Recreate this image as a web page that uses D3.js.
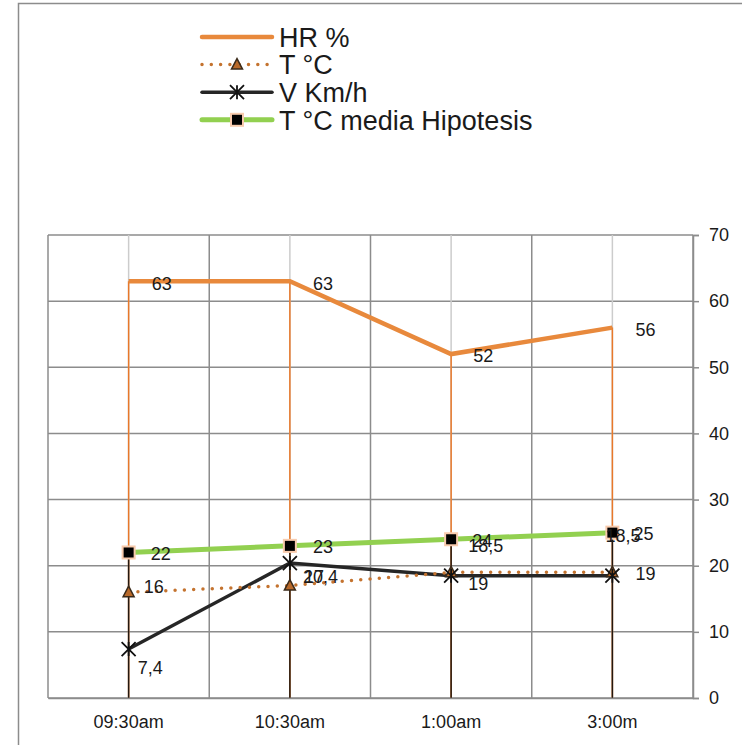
<!DOCTYPE html>
<html>
<head>
<meta charset="utf-8">
<script src="https://cdn.jsdelivr.net/npm/d3@7"></script>
<style>
  html, body { margin: 0; padding: 0; background: #fff; }
  svg text { font-family: "Liberation Sans", Arial, sans-serif; fill: #1a1a1a; }
</style>
</head>
<body>
<svg id="chart" width="742" height="745"></svg>
<script>
// categories and series
const categories = ['09:30am', '10:30am', '1:00am', '3:00m'];
const hrValues = [63, 63, 52, 56];
const tValues = [16, 17, 19, 19];
const vValues = [7.4, 20.4, 18.5, 18.5];
const tMediaValues = [22, 23, 24, 25];
const yTicks = [0, 10, 20, 30, 40, 50, 60, 70];

// label nudges (px) so the labels sit where they were in the original
const labelNudge = {
    hr: [[23, 2], [23, 2], [22, 2], [23, 2]],
    t: [[15, -5], [14, -9], [17, 11], [23, 1]],
    v: [[9, 19], [13, 14], [17, -30], [-7, -40]],
    tm: [[22, 1], [23, 1], [21, 1], [21, 1]]
};

const svg = d3.select('#chart');
const margin = { top: 235, right: 49, bottom: 47, left: 48 };
const width = 742 - margin.left - margin.right,
    height = 745 - margin.top - margin.bottom;

const fmt = v => String(v).replace('.', ',');

// outer chart frame
svg.append('rect')
    .attr('x', 18.5).attr('y', 3.5)
    .attr('width', 800).attr('height', 800)
    .attr('fill', 'none').attr('stroke', '#8c8c8c').attr('stroke-width', 1.5);

const g = svg.append('g').attr('transform', `translate(${margin.left},${margin.top})`);

const x = d3.scaleBand().domain(categories).range([0, width]).paddingInner(0).paddingOuter(0);
const y = d3.scaleLinear().domain([0, 70]).range([height, 0]);
const cx = c => x(c) + x.bandwidth() / 2;

// horizontal gridlines
g.selectAll('.hgrid').data(yTicks).enter().append('line')
    .attr('x1', 0).attr('x2', width)
    .attr('y1', d => y(d)).attr('y2', d => y(d))
    .attr('stroke', '#8c8c8c').attr('stroke-width', 1.5);

// vertical gridlines at category boundaries
const bounds = categories.map(c => x(c)).concat([width]);
g.selectAll('.vgrid').data(bounds).enter().append('line')
    .attr('x1', d => d).attr('x2', d => d)
    .attr('y1', 0).attr('y2', height)
    .attr('stroke', '#8c8c8c').attr('stroke-width', 1.5);

// light lines at category centres
g.selectAll('.cgrid').data(categories).enter().append('line')
    .attr('x1', cx).attr('x2', cx)
    .attr('y1', 0).attr('y2', height)
    .attr('stroke', '#cccccc').attr('stroke-width', 1.5);

// drop lines
g.selectAll('.drop-hr').data(categories).enter().append('line')
    .attr('x1', cx).attr('x2', cx)
    .attr('y1', (d, i) => y(hrValues[i])).attr('y2', height)
    .attr('stroke', '#E8782A').attr('stroke-width', 1.5);
g.selectAll('.drop-low').data(categories).enter().append('line')
    .attr('x1', cx).attr('x2', cx)
    .attr('y1', (d, i) => y(Math.max(tValues[i], vValues[i], tMediaValues[i]))).attr('y2', height)
    .attr('stroke', '#24180f').attr('stroke-width', 1.5);

// axes
const yAxis = g.append('g').attr('transform', `translate(${width},0)`)
    .call(d3.axisRight(y).tickValues(yTicks).tickSize(6).tickPadding(10));
yAxis.select('.domain').attr('stroke', '#8c8c8c').attr('stroke-width', 1.5);
yAxis.selectAll('.tick line').attr('stroke', '#8c8c8c').attr('stroke-width', 1.5);
yAxis.selectAll('text').attr('font-size', 18).style('fill', '#1a1a1a');

const xAxis = g.append('g').attr('transform', `translate(0,${height})`)
    .call(d3.axisBottom(x).tickSize(0).tickPadding(17));
xAxis.select('.domain').attr('stroke', '#8c8c8c').attr('stroke-width', 1.5);
xAxis.selectAll('text').attr('font-size', 18).style('fill', '#1a1a1a');

const line = d3.line().x((d, i) => cx(categories[i])).y(d => y(d));

// HR %
g.append('path').datum(hrValues).attr('d', line)
    .attr('fill', 'none').attr('stroke', '#E8893C').attr('stroke-width', 4.5);

// V Km/h
g.append('path').datum(vValues).attr('d', line)
    .attr('fill', 'none').attr('stroke', '#262626').attr('stroke-width', 3.5);

// T °C dotted
g.append('path').datum(tValues).attr('d', line)
    .attr('fill', 'none').attr('stroke', '#C4732F').attr('stroke-width', 3.5)
    .attr('stroke-linecap', 'round').attr('stroke-dasharray', '0 9.3');

// T °C media Hipotesis
g.append('path').datum(tMediaValues).attr('d', line)
    .attr('fill', 'none').attr('stroke', '#92D050').attr('stroke-width', 5);

// markers
function triangle(sel) {
    sel.append('path').attr('d', 'M0,-6L5.5,4.5L-5.5,4.5Z')
        .attr('fill', '#B8692A').attr('stroke', '#3a2a1a').attr('stroke-width', 1.5);
}
function star(sel, s) {
    sel.append('path').attr('d', `M${-s},${-s}L${s},${s}M${-s},${s}L${s},${-s}M0,${-s}L0,${s}`)
        .attr('stroke', '#111').attr('stroke-width', 1.8).attr('fill', 'none');
}
function square(sel) {
    sel.append('rect').attr('x', -6).attr('y', -6).attr('width', 12).attr('height', 12)
        .attr('fill', '#000').attr('stroke', '#F8CBAD').attr('stroke-width', 2);
}

g.selectAll('.mk-t').data(tValues).enter().append('g')
    .attr('transform', (d, i) => `translate(${cx(categories[i])},${y(d)})`).call(triangle);
g.selectAll('.mk-v').data(vValues).enter().append('g')
    .attr('transform', (d, i) => `translate(${cx(categories[i])},${y(d)})`)
    .each(function () { star(d3.select(this), 7); });
g.selectAll('.mk-tm').data(tMediaValues).enter().append('g')
    .attr('transform', (d, i) => `translate(${cx(categories[i])},${y(d)})`).call(square);

// data labels
function labels(values, nudge) {
    g.selectAll(null).data(values).enter().append('text')
        .attr('x', (d, i) => cx(categories[i]) + nudge[i][0])
        .attr('y', (d, i) => y(d) + nudge[i][1])
        .attr('dy', '0.35em')
        .attr('font-size', 18)
        .text(fmt);
}
labels(hrValues, labelNudge.hr);
labels(tValues, labelNudge.t);
labels(vValues, labelNudge.v);
labels(tMediaValues, labelNudge.tm);

// legend
const legendItems = [
    { name: 'HR %', kind: 'hr' },
    { name: 'T °C', kind: 't' },
    { name: 'V Km/h', kind: 'v' },
    { name: 'T °C media Hipotesis', kind: 'tm' }
];
const legend = svg.append('g').attr('transform', 'translate(202,37)');
legendItems.forEach((it, i) => {
    const row = legend.append('g').attr('transform', `translate(0,${i * 27.6})`);
    const ln = row.append('line').attr('x1', 0).attr('x2', 70).attr('y1', 0).attr('y2', 0);
    if (it.kind === 'hr') {
        ln.attr('stroke', '#E8893C').attr('stroke-width', 4.5).attr('stroke-linecap', 'round');
    } else if (it.kind === 't') {
        ln.attr('stroke', '#C4732F').attr('stroke-width', 3.5)
            .attr('stroke-linecap', 'round').attr('stroke-dasharray', '0 9.3');
        row.append('g').attr('transform', 'translate(35,0)').call(triangle);
    } else if (it.kind === 'v') {
        ln.attr('stroke', '#262626').attr('stroke-width', 3.5).attr('stroke-linecap', 'round');
        row.append('g').attr('transform', 'translate(35,0)').each(function () { star(d3.select(this), 7); });
    } else {
        ln.attr('stroke', '#92D050').attr('stroke-width', 5).attr('stroke-linecap', 'round');
        row.append('g').attr('transform', 'translate(35,0)').call(square);
    }
    row.append('text').attr('x', 77).attr('y', 0).attr('dy', '0.36em')
        .attr('font-size', 27).text(it.name);
});
</script>
</body>
</html>
